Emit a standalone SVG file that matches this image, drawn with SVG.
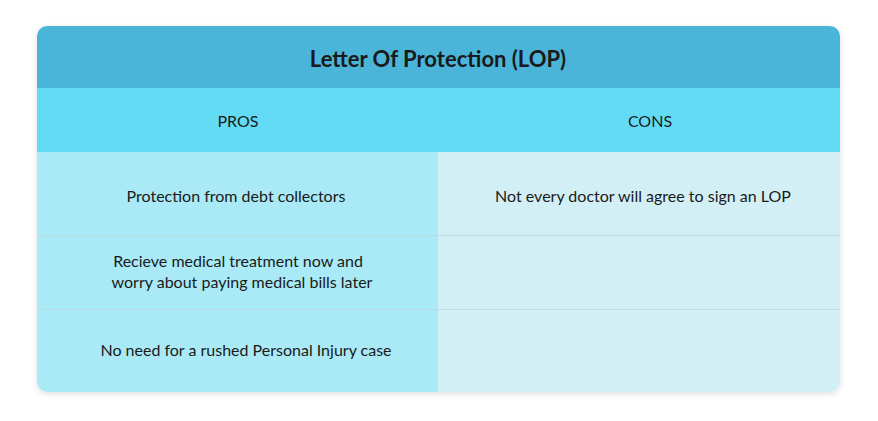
<svg xmlns="http://www.w3.org/2000/svg" width="878" height="421" viewBox="0 0 878 421">
<defs>
<clipPath id="card"><rect x="37" y="26" width="803" height="366" rx="10"/></clipPath>
<filter id="sh" x="-5%" y="-5%" width="110%" height="115%"><feDropShadow dx="0" dy="2" stdDeviation="3" flood-color="#000" flood-opacity="0.12"/></filter>
</defs>
<style>
text{font-family:Lato,"Open Sans","Liberation Sans",sans-serif;fill:#1a1a1a;text-anchor:middle}
.t{font-size:22px;font-weight:bold}
.h{font-size:16px}
.c{font-size:16px}
.d{stroke:#b9dde5;stroke-width:1}
</style>
<rect x="37" y="26" width="803" height="366" rx="10" fill="#fff" filter="url(#sh)"/>
<g clip-path="url(#card)">
<rect x="37" y="26" width="803" height="62" fill="#4bb5d9"/>
<rect x="37" y="88" width="803" height="64" fill="#63dbf4"/>
<rect x="37" y="152" width="401" height="240" fill="#a9eaf6"/>
<rect x="438" y="152" width="402" height="240" fill="#d3eff6"/>
<line class="d" x1="37" y1="235.5" x2="840" y2="235.5"/>
<line class="d" x1="37" y1="309.5" x2="840" y2="309.5"/>
</g>
<g id="title"><text class="t" x="438" y="67">Letter Of Protection (LOP)</text></g>
<g id="pros"><text class="h" x="238" y="127">PROS</text></g>
<g id="cons"><text class="h" x="650" y="127">CONS</text></g>
<g id="p1"><text class="c" x="236" y="202">Protection from debt collectors</text></g>
<g id="p2"><text class="c" x="238" y="267">Recieve medical treatment now and</text><text class="c" x="242" y="288">worry about paying medical bills later</text></g>
<g id="p3"><text class="c" x="246" y="356">No need for a rushed Personal Injury case</text></g>
<g id="c1"><text class="c" x="643" y="202">Not every doctor will agree to sign an LOP</text></g>
</svg>
